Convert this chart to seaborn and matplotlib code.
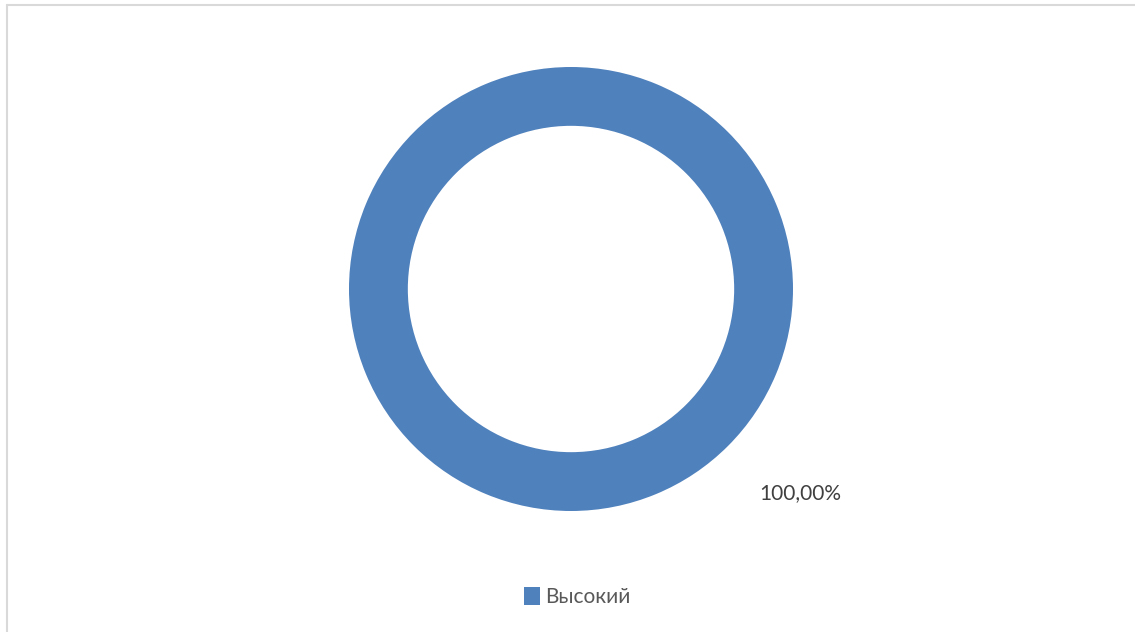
import matplotlib
matplotlib.use("Agg")
import matplotlib.pyplot as plt
from matplotlib.lines import Line2D
from matplotlib.patches import Patch
import seaborn as sns

# Data
categories = ["Высокий"]
values = [100.0]
value_labels = ["100,00%"]
colors = ["#4F81BD"]

sns.set_theme(style="white")
plt.rcParams["font.family"] = ["Lato", "DejaVu Sans"]

W, H = 1135, 632
fig = plt.figure(figsize=(W / 100, H / 100), dpi=100)
fig.patch.set_facecolor("white")

# Donut area (pixel geometry of the plot box)
cx, cy, r = 571, 289, 222
ax = fig.add_axes([(cx - r) / W, (H - cy - r) / H, 2 * r / W, 2 * r / H])
wedges, _ = ax.pie(values, colors=colors, radius=1.0, startangle=90,
                   counterclock=False,
                   wedgeprops=dict(width=0.265, edgecolor="none"))
ax.set_xlim(-1, 1)
ax.set_ylim(-1, 1)
ax.set_aspect("equal")
ax.axis("off")

# Data label
fig.text(800 / W, 1 - 493 / H, value_labels[0], ha="center", va="center",
         fontsize=15, color="#404040")

# Legend
handles = [Patch(facecolor=c, edgecolor="none", label=l)
           for c, l in zip(colors, categories)]
fig.legend(handles=handles, loc="center", bbox_to_anchor=(577 / W, 1 - 597 / H),
           frameon=False, fontsize=15, handlelength=0.75, handleheight=0.95,
           handletextpad=0.25, labelcolor="#595959")

# Chart frame (left and top edges)
fig.add_artist(Line2D([6.5 / W, 6.5 / W], [0, 1 - 5 / H], transform=fig.transFigure,
                      color="#D9D9D9", lw=1.5))
fig.add_artist(Line2D([6.5 / W, 1], [1 - 5 / H, 1 - 5 / H], transform=fig.transFigure,
                      color="#D9D9D9", lw=1.5))

fig.savefig("out.png", dpi=100, facecolor="white")
